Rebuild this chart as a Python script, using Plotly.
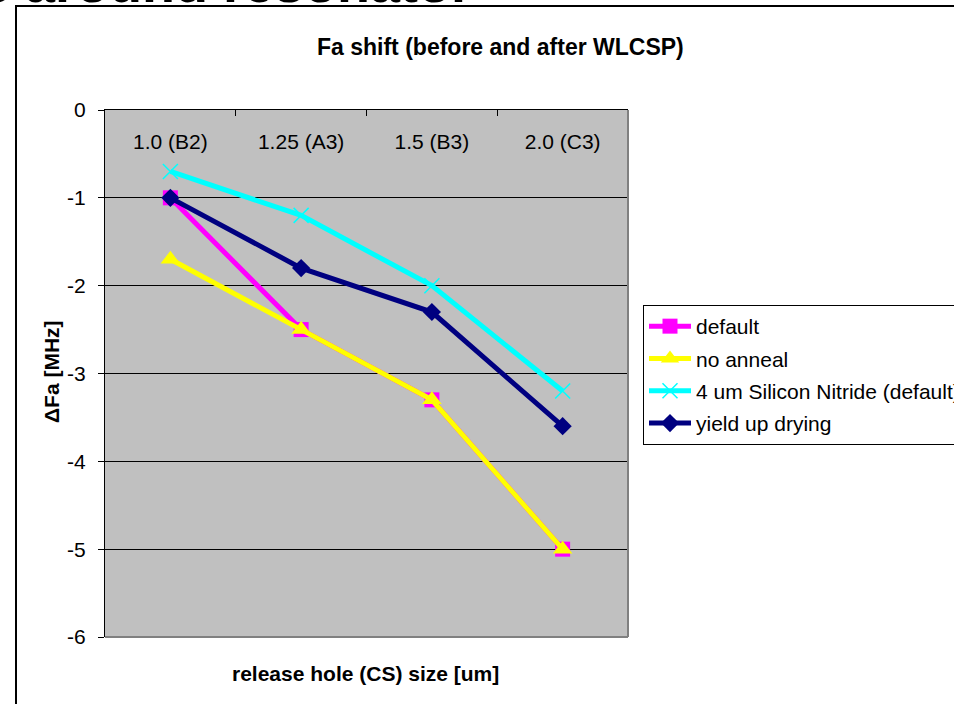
import plotly.graph_objects as go

# Category axis: release hole size (with die location)
categories = ["1.0 (B2)", "1.25 (A3)", "1.5 (B3)", "2.0 (C3)"]

# Fa shift in MHz for each process split
default = [-1.0, -2.5, -3.3, -5.0]
no_anneal = [-1.7, -2.5, -3.3, -5.0]
nitride_4um = [-0.7, -1.2, -2.0, -3.2]
yield_up_drying = [-1.0, -1.8, -2.3, -3.6]

y_ticks = [0, -1, -2, -3, -4, -5, -6]

W, H = 954, 704
L, R, T, B = 105, 326, 110, 67
PW, PH = W - L - R, H - T - B


def px_x(px):
    return (px - L) / PW


def px_y(py):
    return (H - B - py) / PH


FONT = "Liberation Sans, Arial, sans-serif"
fig = go.Figure()

series = [
    ("default", default, "#FF00FF", dict(symbol="square", size=15)),
    ("no anneal", no_anneal, "#FFFF00", dict(symbol="triangle-up", size=17)),
    ("4 um Silicon Nitride (default)", nitride_4um, "#00FFFF",
     dict(symbol="x-thin-open", size=15, line=dict(width=1.5, color="#00FFFF"))),
    ("yield up drying", yield_up_drying, "#000080", dict(symbol="diamond", size=14)),
]

for i, (name, vals, color, marker) in enumerate(series):
    m = dict(color=color)
    m.update(marker)
    fig.add_trace(go.Scatter(
        x=categories, y=vals, name=name, mode="lines+markers",
        legendgroup=f"g{i}",
        line=dict(color=color, width=5), marker=m,
    ))

fig.update_layout(
    width=W, height=H,
    margin=dict(l=L, r=R, t=T, b=B, autoexpand=False),
    paper_bgcolor="white",
    plot_bgcolor="#C0C0C0",
    font=dict(family=FONT, size=21, color="black"),
    showlegend=True,
    legend=dict(
        x=px_x(643), y=px_y(305), xanchor="left", yanchor="top",
        bgcolor="white", bordercolor="black", borderwidth=1,
        font=dict(size=21, color="black"), itemwidth=42, tracegroupgap=2,
    ),
    xaxis=dict(
        type="category", side="top",
        ticks="inside", ticklen=6, tickcolor="black", tickson="boundaries",
        ticklabelstandoff=-48, tickfont=dict(color="black", size=21),
        showline=True, linecolor="black", linewidth=1,
        showgrid=False, range=[-0.5, 3.5], fixedrange=True,
    ),
    yaxis=dict(
        range=[-6, 0], tickvals=y_ticks, ticktext=[str(v) for v in y_ticks],
        ticks="outside", ticklen=6, tickcolor="black", ticklabelstandoff=8,
        tickfont=dict(color="black", size=21),
        showline=True, linecolor="black", linewidth=1,
        showgrid=True, gridcolor="black", gridwidth=1, zeroline=False,
    ),
)

# plot-area border (right and bottom edges)
fig.add_shape(type="line", xref="x domain", yref="y domain", x0=1, x1=1, y0=0, y1=1,
              line=dict(color="#808080", width=2))
fig.add_shape(type="line", xref="x domain", yref="y domain", x0=0, x1=1, y0=0, y1=0,
              line=dict(color="#808080", width=2))

# chart frame
fig.add_shape(type="rect", xref="paper", yref="paper",
              x0=px_x(16), x1=px_x(W + 20), y0=px_y(H + 20), y1=px_y(6),
              line=dict(color="black", width=2), layer="below")

# slide heading (partly above the page)
fig.add_annotation(text="<b>s around resonator</b>", xref="paper", yref="paper",
                   x=px_x(-22), y=px_y(-17.5), xanchor="left", yanchor="middle",
                   showarrow=False, font=dict(size=54, family=FONT, color="black"))
fig.add_annotation(text="<b>Fa shift (before and after WLCSP)</b>", xref="paper", yref="paper",
                   x=px_x(500), y=px_y(47), xanchor="center", yanchor="middle",
                   showarrow=False, font=dict(size=23))
fig.add_annotation(text="<b>release hole (CS) size [um]</b>", xref="paper", yref="paper",
                   x=px_x(365), y=px_y(673), xanchor="center", yanchor="middle",
                   showarrow=False, font=dict(size=21))
fig.add_annotation(text="<b>ΔFa [MHz]</b>", xref="paper", yref="paper",
                   x=px_x(51), y=px_y(372), xanchor="center", yanchor="middle",
                   textangle=-90, showarrow=False, font=dict(size=21))

fig.write_html("out.html")
